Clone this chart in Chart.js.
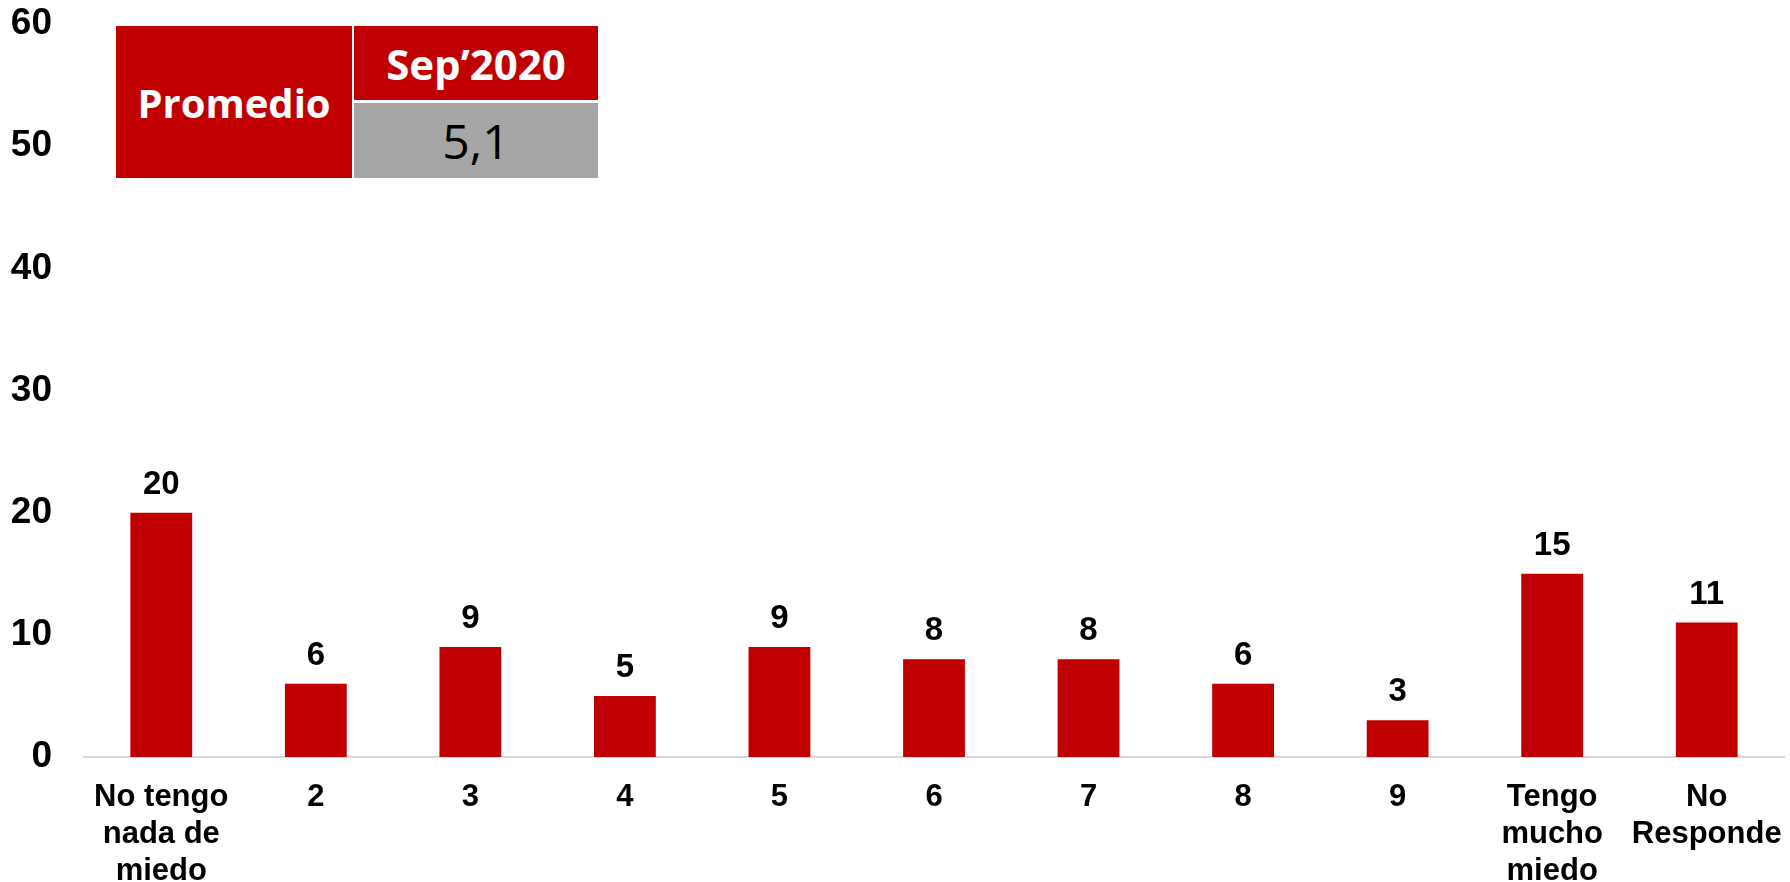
<!DOCTYPE html>
<html>
<head>
<meta charset="utf-8">
<script src="https://cdn.jsdelivr.net/npm/chart.js@4"></script>
<style>
  body { margin: 0; background: #fff; }
  #wrap { position: relative; width: 1790px; height: 882px; }
  .box { position: absolute; display: flex; align-items: center; justify-content: center; font-family: "Open Sans", sans-serif; }
  .red { background: #C00000; color: #fff; font-weight: bold; }
  .grey { background: #A6A6A6; color: #000; }
</style>
</head>
<body>
<div id="wrap">
  <canvas id="myChart"></canvas>
  <div class="box red" style="left:116px;top:26px;width:236px;height:152px;font-size:40px;">Promedio</div>
  <div class="box red" style="left:354px;top:26px;width:244px;height:74px;font-size:42px;">Sep’2020</div>
  <div class="box grey" style="left:354px;top:103px;width:244px;height:75px;font-size:48px;">5,1</div>
</div>
<script>
const categories = [
  ["No tengo", "nada de", "miedo"], "2", "3", "4", "5", "6", "7", "8", "9",
  ["Tengo", "mucho", "miedo"], ["No", "Responde"]
];
const values = [20, 6, 9, 5, 9, 8, 8, 6, 3, 15, 11];
const yTicks = [0, 10, 20, 30, 40, 50, 60];

const labelFont = "Liberation Sans, Arial, sans-serif";

// values above bars
const barValues = {
  id: "barValues",
  afterDatasetsDraw(chart) {
    const ctx = chart.ctx;
    const meta = chart.getDatasetMeta(0);
    ctx.save();
    ctx.font = "bold 33px " + labelFont;
    ctx.fillStyle = "#000";
    ctx.textAlign = "center";
    ctx.textBaseline = "middle";
    meta.data.forEach((bar, i) => {
      ctx.fillText(values[i], bar.x, bar.y - 28);
    });
    ctx.restore();
  }
};

new Chart("myChart", {
  type: "bar",
  data: {
    labels: categories,
    datasets: [{
      data: values,
      backgroundColor: "#C00000",
      barPercentage: 0.5,
      categoryPercentage: 0.8
    }]
  },
  options: {
    responsive: true,
    maintainAspectRatio: false,
    animation: false,
    layout: { padding: { top: 24, right: 6, left: 0, bottom: 0 } },
    plugins: {
      legend: { display: false },
      tooltip: { enabled: false }
    },
    scales: {
      x: {
        grid: { display: false },
        border: { display: true, color: "#D9D9D9", width: 2 },
        ticks: {
          color: "#000",
          padding: 14,
          maxRotation: 0,
          autoSkip: false,
          font: { family: labelFont, size: 31, weight: "bold", lineHeight: 1.19 }
        },
        afterFit: s => {
          s.height = 125;
          s.paddingLeft = 0;
          s.paddingRight = 0;
        }
      },
      y: {
        min: 0,
        max: 60,
        grid: { display: false },
        border: { display: false },
        afterBuildTicks: s => { s.ticks = yTicks.map(v => ({ value: v })); },
        ticks: {
          color: "#000",
          padding: 24,
          font: { family: labelFont, size: 37, weight: "bold" }
        },
        afterFit: s => {
          s.width = 84;
          s.paddingTop = 0;
          s.paddingBottom = 0;
        }
      }
    }
  },
  plugins: [barValues]
});
</script>
</body>
</html>
